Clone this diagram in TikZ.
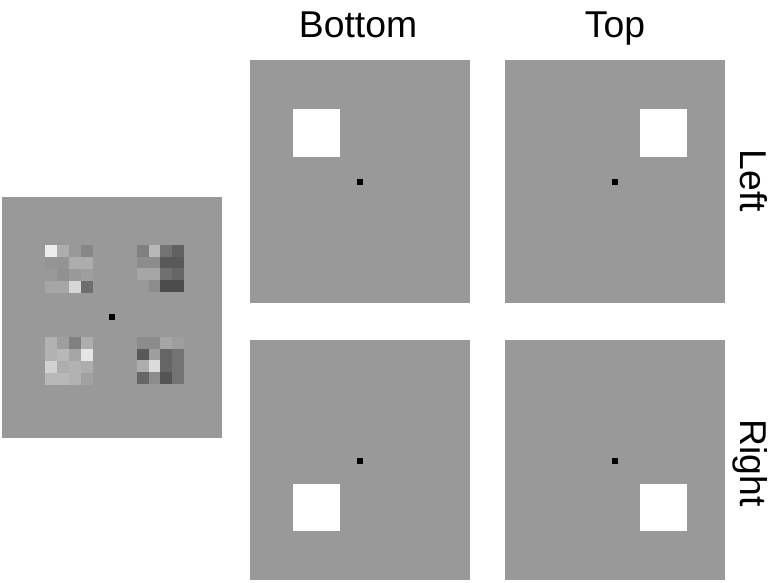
\documentclass[tikz,border=0pt]{standalone}
\usepackage{fontspec}
\setmainfont{Liberation Sans}
\begin{document}
\begin{tikzpicture}[x=0.75pt,y=-0.75pt,
  panel/.style={fill=panelgray,draw=none},
  whitesq/.style={fill=white,draw=none},
  fixdot/.style={fill=black,draw=none},
  lab/.style={font=\fontsize{28}{30}\selectfont,inner sep=0pt,anchor=base}]
\definecolor{panelgray}{gray}{0.6}
\useasboundingbox (0,0) rectangle (771,582);
\fill[white] (0,0) rectangle (771,582);
% patch macro: x0,y0, cell size, 16 values
\newcommand{\drawpatch}[4]{%
  \foreach \v [count=\k from 0] in {#4} {%
    \pgfmathtruncatemacro{\cc}{mod(\k,4)}%
    \pgfmathtruncatemacro{\rr}{div(\k,4)}%
    \definecolor{cellc}{gray}{\v}%
    \fill[cellc] ({#1+\cc*#3},{#2+\rr*#3}) rectangle ({#1+(\cc+1)*#3},{#2+(\rr+1)*#3});
  }}
% left stimulus panel
\fill[panel] (2,197) rectangle (222,438);
\drawpatch{45}{245}{11.9}{0.93,0.68,0.6,0.53, 0.58,0.58,0.68,0.68, 0.6,0.57,0.6,0.62, 0.65,0.65,0.84,0.43}
\drawpatch{137}{245}{11.7}{0.5,0.72,0.45,0.38, 0.55,0.55,0.35,0.35, 0.65,0.65,0.44,0.4, 0.6,0.55,0.3,0.3}
\drawpatch{45}{337}{11.9}{0.7,0.62,0.5,0.68, 0.7,0.72,0.65,0.9, 0.82,0.68,0.7,0.68, 0.72,0.72,0.7,0.63}
\drawpatch{137}{337}{11.7}{0.55,0.55,0.65,0.62, 0.35,0.62,0.4,0.45, 0.68,0.86,0.4,0.45, 0.4,0.55,0.33,0.45}
\fill[fixdot] (109,314) rectangle (115,320);
% top-left: Bottom / Left
\fill[panel] (250,60) rectangle (470,303);
\fill[whitesq] (293,109) rectangle (340,157);
\fill[fixdot] (357,179) rectangle (363,185);
% top-right: Top / Left
\fill[panel] (505,60) rectangle (725,303);
\fill[whitesq] (640,109) rectangle (687,157);
\fill[fixdot] (612,179) rectangle (618,185);
% bottom-left: Bottom / Right
\fill[panel] (250,340) rectangle (470,580);
\fill[whitesq] (293,484) rectangle (340,531);
\fill[fixdot] (357,458) rectangle (363,464);
% bottom-right: Top / Right
\fill[panel] (505,340) rectangle (725,580);
\fill[whitesq] (640,484) rectangle (687,531);
\fill[fixdot] (612,458) rectangle (618,464);
% labels
\node[lab] (bottom) at (358,37) {Bottom};
\node[lab] (top) at (615,37) {Top};
\node[lab,rotate=-90] (left) at (740,181) {Left};
\node[lab,rotate=-90] (right) at (740,463) {Right};
\end{tikzpicture}
\end{document}
